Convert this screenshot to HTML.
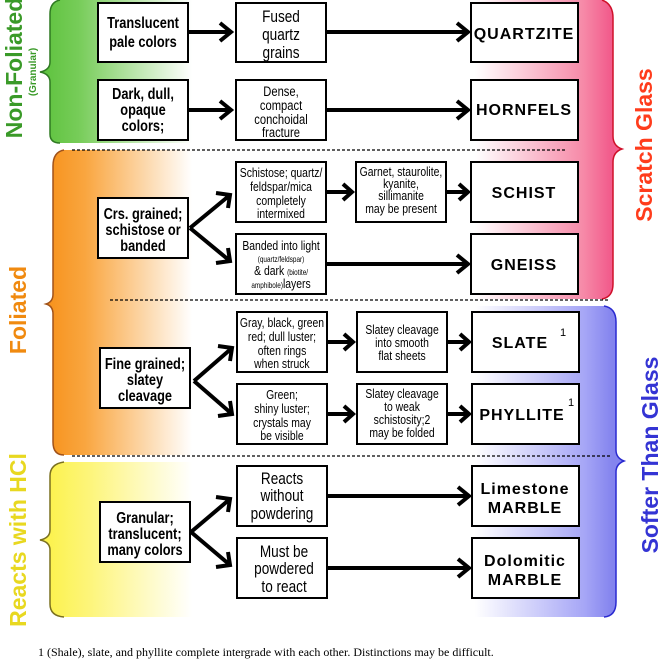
<!DOCTYPE html>
<html><head><style>body{margin:0;background:#fff}svg{display:block}
.b{fill:#fff;stroke:#000;stroke-width:2}
.t{font-family:"Liberation Sans Narrow","Liberation Sans",sans-serif;text-anchor:middle;font-size:13px;transform-box:fill-box;transform-origin:center;transform:scaleX(.8)}
.h{font-family:"Liberation Sans Narrow","Liberation Sans",sans-serif;font-weight:bold;text-anchor:middle;font-size:16px;transform-box:fill-box;transform-origin:center;transform:scaleX(.8)}
.m{font-family:"Liberation Sans",sans-serif;font-weight:bold;text-anchor:middle;font-size:16px;letter-spacing:1px}
.a{stroke:#000;stroke-width:4;fill:none;stroke-linejoin:miter}
.v{font-family:"Liberation Sans Narrow","Liberation Sans",sans-serif;font-weight:bold;text-anchor:middle}
.L{font-size:17px}.M{font-size:14px}
</style></head><body>
<svg width="665" height="660" viewBox="0 0 665 660" xmlns="http://www.w3.org/2000/svg">
<defs>
<linearGradient id="g" x1="40" x2="192" y1="0" y2="0" gradientUnits="userSpaceOnUse"><stop offset="0" stop-color="#5cc23c"/><stop offset="0.25" stop-color="#76cc58"/><stop offset="1" stop-color="#fff"/></linearGradient>
<linearGradient id="o" x1="50" x2="192" y1="0" y2="0" gradientUnits="userSpaceOnUse"><stop offset="0" stop-color="#f7931e"/><stop offset="0.25" stop-color="#f9a640"/><stop offset="1" stop-color="#fff"/></linearGradient>
<linearGradient id="y" x1="45" x2="192" y1="0" y2="0" gradientUnits="userSpaceOnUse"><stop offset="0" stop-color="#fcf24a"/><stop offset="0.3" stop-color="#fdf57a"/><stop offset="1" stop-color="#fff"/></linearGradient>
<linearGradient id="p" x1="475" x2="610" y1="0" y2="0" gradientUnits="userSpaceOnUse"><stop offset="0" stop-color="#fff"/><stop offset="0.8" stop-color="#f68aa8"/><stop offset="1" stop-color="#f25c8c"/></linearGradient>
<linearGradient id="u" x1="475" x2="612" y1="0" y2="0" gradientUnits="userSpaceOnUse"><stop offset="0" stop-color="#fff"/><stop offset="0.8" stop-color="#a6a6f6"/><stop offset="1" stop-color="#8484ee"/></linearGradient>
</defs>
<path d="M192,0 L60,0 Q50,2 50,14 L50,62 Q50,70 40,72 Q50,74 50,82 L50,134 Q50,143 60,143 L192,143 Z" fill="url(#g)"/>
<path d="M60,0 Q50,2 50,14 L50,62 Q50,70 40,72 Q50,74 50,82 L50,134 Q50,143 60,143" fill="none" stroke="#2f7a22" stroke-width="1.5"/>
<path d="M192,150 L64,150 Q53,152 53,166 L53,294 Q53,302 46,304 Q53,306 53,314 L53,442 Q53,455 64,455 L192,455 Z" fill="url(#o)"/>
<path d="M64,150 Q53,152 53,166 L53,294 Q53,302 46,304 Q53,306 53,314 L53,442 Q53,455 64,455" fill="none" stroke="#a0521a" stroke-width="1.5"/>
<path d="M192,462 L64,462 Q50,464 50,476 L50,530 Q50,538 40,540 Q50,542 50,550 L50,604 Q50,616 64,617 L192,617 Z" fill="url(#y)"/>
<path d="M64,462 Q50,464 50,476 L50,530 Q50,538 40,540 Q50,542 50,550 L50,604 Q50,616 64,617" fill="none" stroke="#7a7020" stroke-width="1.5"/>
<path d="M475,0 L602,0 Q613,4 613,18 L613,136 Q613,146 622,149 Q613,152 613,162 L613,284 Q613,297 602,299 L475,299 Z" fill="url(#p)"/>
<path d="M602,0 Q613,4 613,18 L613,136 Q613,146 622,149 Q613,152 613,162 L613,284 Q613,297 602,299" fill="none" stroke="#d0102a" stroke-width="1.5"/>
<path d="M475,306 L604,306 Q616,308 616,322 L616,450 Q616,458 624,461 Q616,464 616,472 L616,602 Q616,616 604,617 L475,617 Z" fill="url(#u)"/>
<path d="M604,306 Q616,308 616,322 L616,450 Q616,458 624,461 Q616,464 616,472 L616,602 Q616,616 604,617" fill="none" stroke="#2a2ad0" stroke-width="1.5"/>
<line x1="72" y1="150" x2="566" y2="150" stroke="#000" stroke-width="1.2" stroke-dasharray="3,2"/>
<line x1="110" y1="300" x2="610" y2="300" stroke="#000" stroke-width="1.2" stroke-dasharray="3,2"/>
<line x1="72" y1="456" x2="610" y2="456" stroke="#000" stroke-width="1.2" stroke-dasharray="3,2"/>
<text class="v" transform="translate(22,68) rotate(-90)" font-size="23" fill="#3a9a28">Non-Foliated</text>
<text class="v" transform="translate(36,72) rotate(-90)" font-size="10" fill="#3a9a28">(Granular)</text>
<text class="v" transform="translate(26,310) rotate(-90)" font-size="23" fill="#f08a10">Foliated</text>
<text class="v" transform="translate(26,540) rotate(-90)" font-size="23" fill="#e8d820">Reacts with HCl</text>
<text class="v" transform="translate(652,145) rotate(-90)" font-size="23" fill="#ff3c1c">Scratch Glass</text>
<text class="v" transform="translate(658,455) rotate(-90)" font-size="23" fill="#3434d4">Softer Than Glass</text>
<rect class="b" x="98" y="3" width="90" height="59"/><text class="h" x="143" y="28">Translucent</text><text class="h" x="143" y="47">pale colors</text>
<rect class="b" x="236" y="3" width="90" height="59"/><text class="t L" x="281" y="22">Fused</text><text class="t L" x="281" y="40">quartz</text><text class="t L" x="281" y="58">grains</text>
<rect class="b" x="471" y="3" width="107" height="59"/><text class="m" x="524" y="39">QUARTZITE</text>
<rect class="b" x="98" y="80" width="90" height="60"/><text class="h" x="143" y="99">Dark, dull,</text><text class="h" x="143" y="115">opaque</text><text class="h" x="143" y="131">colors;</text>
<rect class="b" x="236" y="80" width="90" height="60"/><text class="t M" x="281" y="96">Dense,</text><text class="t M" x="281" y="110">compact</text><text class="t M" x="281" y="124">conchoidal</text><text class="t M" x="281" y="137">fracture</text>
<rect class="b" x="471" y="80" width="107" height="60"/><text class="m" x="524" y="115">HORNFELS</text>
<rect class="b" x="236" y="162" width="90" height="60"/><text class="t" x="281" y="177">Schistose; quartz/</text><text class="t" x="281" y="191">feldspar/mica</text><text class="t" x="281" y="205">completely</text><text class="t" x="281" y="218">intermixed</text>
<rect class="b" x="356" y="162" width="90" height="60"/><text class="t" x="401" y="176">Garnet, staurolite,</text><text class="t" x="401" y="188">kyanite,</text><text class="t" x="401" y="200">sillimanite</text><text class="t" x="401" y="213">may be present</text>
<rect class="b" x="471" y="162" width="107" height="60"/><text class="m" x="524" y="198">SCHIST</text>
<rect class="b" x="98" y="198" width="90" height="60"/><text class="h" x="143" y="219">Crs. grained;</text><text class="h" x="143" y="235">schistose or</text><text class="h" x="143" y="251">banded</text>
<rect class="b" x="236" y="234" width="90" height="60"/><text class="t" x="281" y="250">Banded into light</text><text class="t" x="281" y="262" style="font-size:8px">(quartz/feldspar)</text><text class="t" x="281" y="275">&amp; dark <tspan font-size="8">(biotite/</tspan></text><text class="t" x="281" y="288"><tspan font-size="8">amphibole)</tspan>layers</text>
<rect class="b" x="471" y="234" width="107" height="60"/><text class="m" x="524" y="270">GNEISS</text>
<rect class="b" x="237" y="312" width="90" height="60"/><text class="t" x="282" y="327">Gray, black, green</text><text class="t" x="282" y="341">red; dull luster;</text><text class="t" x="282" y="355">often rings</text><text class="t" x="282" y="368">when struck</text>
<rect class="b" x="357" y="312" width="90" height="60"/><text class="t" x="402" y="334">Slatey cleavage</text><text class="t" x="402" y="347">into smooth</text><text class="t" x="402" y="360">flat sheets</text>
<rect class="b" x="472" y="312" width="107" height="60"/><text class="m" x="520" y="348">SLATE</text><text x="563" y="336" font-family="Liberation Sans" font-size="11" text-anchor="middle">1</text>
<rect class="b" x="100" y="348" width="90" height="60"/><text class="h" x="145" y="369">Fine grained;</text><text class="h" x="145" y="385">slatey</text><text class="h" x="145" y="401">cleavage</text>
<rect class="b" x="237" y="384" width="90" height="60"/><text class="t" x="282" y="399">Green;</text><text class="t" x="282" y="413">shiny luster;</text><text class="t" x="282" y="427">crystals may</text><text class="t" x="282" y="440">be visible</text>
<rect class="b" x="357" y="384" width="90" height="60"/><text class="t" x="402" y="398">Slatey cleavage</text><text class="t" x="402" y="411">to weak</text><text class="t" x="402" y="424">schistosity;2</text><text class="t" x="402" y="437">may be folded</text>
<rect class="b" x="472" y="384" width="107" height="60"/><text class="m" x="522" y="420">PHYLLITE</text><text x="571" y="406" font-family="Liberation Sans" font-size="11" text-anchor="middle">1</text>
<rect class="b" x="237" y="466" width="90" height="60"/><text class="t L" x="282" y="484">Reacts</text><text class="t L" x="282" y="501">without</text><text class="t L" x="282" y="519">powdering</text>
<rect class="b" x="472" y="466" width="107" height="60"/><text class="m" x="525" y="494">Limestone</text><text class="m" x="525" y="513">MARBLE</text>
<rect class="b" x="100" y="502" width="90" height="60"/><text class="h" x="145" y="523">Granular;</text><text class="h" x="145" y="539">translucent;</text><text class="h" x="145" y="555">many colors</text>
<rect class="b" x="237" y="538" width="90" height="60"/><text class="t L" x="284" y="557">Must be</text><text class="t L" x="284" y="574">powdered</text><text class="t L" x="284" y="592">to react</text>
<rect class="b" x="472" y="538" width="107" height="60"/><text class="m" x="525" y="566">Dolomitic</text><text class="m" x="525" y="585">MARBLE</text>
<g class="a">
<path d="M189,32 L231,32 M220,23 L231,32 L220,41"/>
<path d="M327,32 L468,32 M457,23 L468,32 L457,41"/>
<path d="M189,110 L231,110 M220,101 L231,110 L220,119"/>
<path d="M327,110 L468,110 M457,101 L468,110 L457,119"/>
<path d="M327,192 L352,192 M343,184 L352,192 L343,200"/>
<path d="M447,192 L468,192 M459,184 L468,192 L459,200"/>
<path d="M327,264 L468,264 M457,255 L468,264 L457,273"/>
<path d="M190,228 L230,195 M216,193 L230,195 L228,208"/>
<path d="M190,228 L230,261 M216,263 L230,261 L228,248"/>
<path d="M328,342 L353,342 M344,334 L353,342 L344,350"/>
<path d="M448,342 L469,342 M460,334 L469,342 L460,350"/>
<path d="M328,414 L353,414 M344,406 L353,414 L344,422"/>
<path d="M448,414 L469,414 M460,406 L469,414 L460,422"/>
<path d="M194,381 L232,348 M218,346 L232,348 L230,361"/>
<path d="M194,381 L232,414 M218,416 L232,414 L230,401"/>
<path d="M328,496 L469,496 M458,487 L469,496 L458,505"/>
<path d="M328,568 L469,568 M458,559 L469,568 L458,577"/>
<path d="M191,532 L230,499 M216,497 L230,499 L228,512"/>
<path d="M191,532 L230,565 M216,567 L230,565 L228,552"/>
</g>
<text x="38" y="656" font-family="'Liberation Serif',serif" font-size="12">1  (Shale), slate, and phyllite complete intergrade with each other.  Distinctions may be difficult.</text>
</svg>
</body></html>
